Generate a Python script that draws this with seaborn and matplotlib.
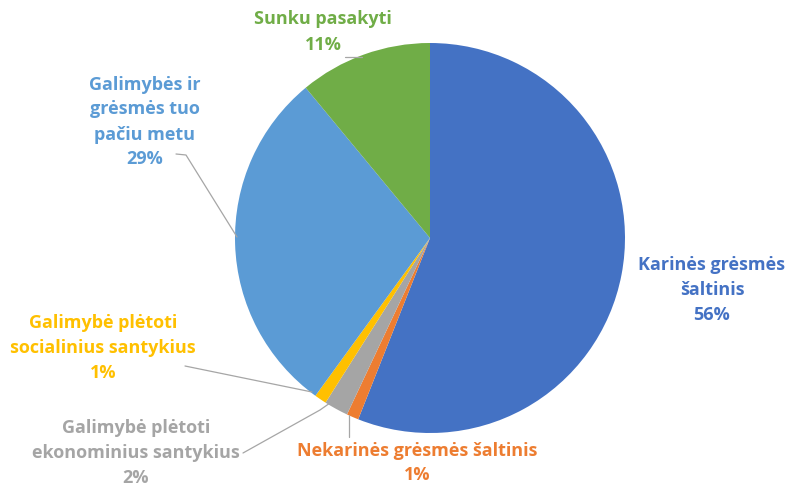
import matplotlib
matplotlib.use("Agg")
import matplotlib.pyplot as plt
import seaborn as sns

labels = ["Karinės grėsmės\nšaltinis",
          "Nekarinės grėsmės šaltinis",
          "Galimybė plėtoti\nekonominius santykius",
          "Galimybė plėtoti\nsocialinius santykius",
          "Galimybės ir\ngrėsmės tuo\npačiu metu",
          "Sunku pasakyti"]
values = [56, 1, 2, 1, 29, 11]
colors = ["#4472C4", "#ED7D31", "#A5A5A5", "#FFC000", "#5B9BD5", "#70AD47"]

sns.set_theme(style="white")
plt.rcParams['font.family'] = ['Open Sans', 'DejaVu Sans']

H = 487
fig = plt.figure(figsize=(7.91, 4.87), dpi=100)
ax = fig.add_axes([0, 0, 1, 1])

ax.pie(values, colors=colors, startangle=90, counterclock=False,
       center=(430, H - 238), radius=195,
       wedgeprops=dict(linewidth=0))
ax.set_xlim(0, 791)
ax.set_ylim(0, H)
ax.set_aspect('equal')
ax.axis('off')

# label positions (pixel coords, y from top)
label_pos = [(712, 290), (417, 463), (136, 453), (103, 348), (145, 122), (323, 32)]
for lab, val, col, (x, y) in zip(labels, values, colors, label_pos):
    ax.text(x, H - y, f"{lab}\n{val}%", color=col, ha='center', va='center',
            fontsize=13, fontweight='bold', linespacing=1.5)

# leader lines
leaders = [
    [(349, 415), (349, 437)],
    [(243, 453), (320, 410), (330, 403)],
    [(185, 366), (312, 392)],
    [(176, 154), (186, 155), (237, 237)],
    [(345, 57), (362, 57)],
]
for pts in leaders:
    xs = [p[0] for p in pts]
    ys = [H - p[1] for p in pts]
    ax.plot(xs, ys, color="#A6A6A6", lw=0.9)

fig.savefig("out.png", dpi=100)
